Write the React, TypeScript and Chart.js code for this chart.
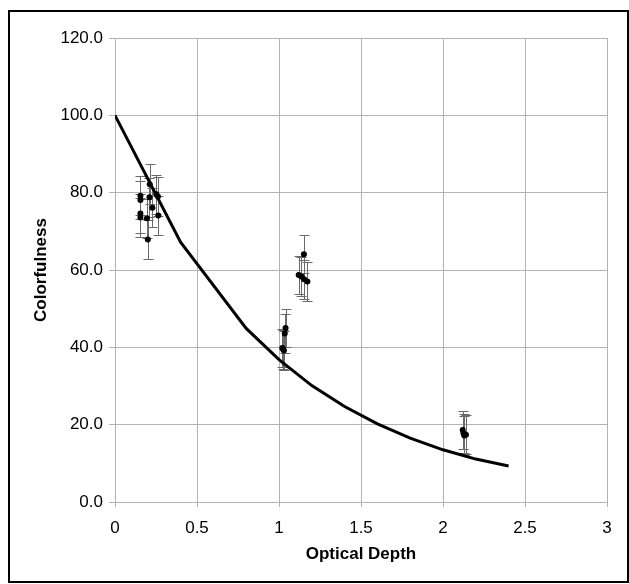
import React, { useEffect, useRef } from "react";
import { Chart, registerables } from "chart.js";

Chart.register(...registerables);

// Model curve (Colorfulness vs Optical Depth)
const curveX = [0, 0.4, 0.8, 1.0, 1.2, 1.4, 1.6, 1.8, 2.0, 2.2, 2.4];
const curveY = [100, 67.2, 44.9, 36.8, 30.1, 24.7, 20.2, 16.5, 13.5, 11.1, 9.3];

// Measured points with error bars
const pointX = [
  0.155, 0.155, 0.155, 0.155, 0.195, 0.2, 0.212, 0.21, 0.228, 0.252, 0.262, 0.264,
  1.02, 1.03, 1.025, 1.04, 1.035,
  1.152, 1.12, 1.137, 1.153, 1.173,
  2.12, 2.125, 2.13, 2.14,
];
const pointY = [
  79.2, 78.1, 74.6, 73.6, 73.4, 67.9, 82.2, 78.8, 76.1, 79.6, 79.0, 74.1,
  39.8, 39.2, 39.5, 45.0, 43.6,
  64.1, 58.7, 58.3, 57.6, 57.0,
  18.6, 17.8, 17.2, 17.4,
];
const pointErr = [
  5, 5, 5, 5, 5, 5, 5.1, 5, 5, 5, 5, 5,
  5, 5, 5, 5, 5,
  5, 5, 5, 5, 5,
  5, 5, 5, 5,
];

const xTickValues = [0, 0.5, 1, 1.5, 2, 2.5, 3];
const yTickValues = [0, 20, 40, 60, 80, 100, 120];

const FONT = "'Liberation Sans', Arial, sans-serif";
const GRID = "#b3b3b3";

const errorBarPlugin = {
  id: "errorBars",
  beforeDatasetsDraw(chart: any) {
    const { ctx } = chart;
    const x = chart.scales.x;
    const y = chart.scales.y;
    const cap = 5;
    ctx.save();
    ctx.strokeStyle = "#6a6a6a";
    ctx.lineWidth = 1;
    pointX.forEach((vx, i) => {
      const px = Math.round(x.getPixelForValue(vx)) + 0.5;
      const top = Math.round(y.getPixelForValue(pointY[i] + pointErr[i])) + 0.5;
      const bot = Math.round(y.getPixelForValue(pointY[i] - pointErr[i])) + 0.5;
      ctx.beginPath();
      ctx.moveTo(px, top);
      ctx.lineTo(px, bot);
      ctx.moveTo(px - cap, top);
      ctx.lineTo(px + cap, top);
      ctx.moveTo(px - cap, bot);
      ctx.lineTo(px + cap, bot);
      ctx.stroke();
    });
    ctx.restore();
  },
};

const framePlugin = {
  id: "frame",
  afterDraw(chart: any) {
    const { ctx } = chart;
    ctx.save();
    ctx.strokeStyle = "#000";
    ctx.lineWidth = 2;
    ctx.strokeRect(9, 11, 619, 571);
    ctx.restore();
  },
};

export default function App() {
  const ref = useRef<HTMLCanvasElement | null>(null);

  useEffect(() => {
    if (!ref.current) return;
    Chart.defaults.font.family = FONT;
    Chart.defaults.font.size = 17;
    Chart.defaults.color = "#000";
    const chart = new Chart(ref.current, {
      type: "scatter",
      data: {
        datasets: [
          {
            label: "points",
            data: pointX.map((vx, i) => ({ x: vx, y: pointY[i] })),
            backgroundColor: "#000",
            borderColor: "#000",
            pointRadius: 3,
            pointBorderWidth: 0,
            showLine: false,
            order: 2,
          },
          {
            label: "model",
            data: curveX.map((vx, i) => ({ x: vx, y: curveY[i] })),
            borderColor: "#000",
            backgroundColor: "#000",
            borderWidth: 3,
            pointRadius: 0,
            showLine: true,
            tension: 0,
            order: 1,
          },
        ],
      },
      options: {
        responsive: false,
        animation: false,
        devicePixelRatio: 1,
        layout: { padding: { top: 38, right: 22, left: 0, bottom: 0 } },
        plugins: {
          legend: { display: false },
          tooltip: { enabled: false },
        },
        scales: {
          x: {
            type: "linear",
            min: 0,
            max: 3,
            afterBuildTicks: (s: any) => {
              s.ticks = xTickValues.map((v) => ({ value: v }));
            },
            afterFit: (s: any) => {
              s.height = 82;
            },
            ticks: {
              callback: (v: any) => String(Number(v)),
              padding: 11,
              maxRotation: 0,
              font: { size: 17, family: FONT },
              color: "#000",
            },
            grid: { color: GRID, tickLength: 5, tickColor: GRID },
            border: { color: GRID },
            title: {
              display: true,
              text: "Optical Depth",
              font: { size: 17, weight: "bold", family: FONT },
              color: "#000",
              padding: { top: 0, bottom: 19 },
            },
          },
          y: {
            type: "linear",
            min: 0,
            max: 120,
            afterBuildTicks: (s: any) => {
              s.ticks = yTickValues.map((v) => ({ value: v }));
            },
            afterFit: (s: any) => {
              s.width = 115;
            },
            ticks: {
              callback: (v: any) => Number(v).toFixed(1),
              padding: 6,
              font: { size: 17, family: FONT },
              color: "#000",
            },
            grid: { color: GRID, tickLength: 6, tickColor: GRID },
            border: { color: GRID },
            title: {
              display: true,
              text: "Colorfulness",
              font: { size: 17, weight: "bold", family: FONT },
              color: "#000",
              padding: { top: 31, bottom: 0 },
            },
          },
        },
      },
      plugins: [errorBarPlugin, framePlugin],
    });
    return () => chart.destroy();
  }, []);

  return (
    <div style={{ position: "absolute", left: 0, top: 0, width: 629, height: 584 }}>
      <canvas ref={ref} width={629} height={584} style={{ display: "block" }} />
    </div>
  );
}
